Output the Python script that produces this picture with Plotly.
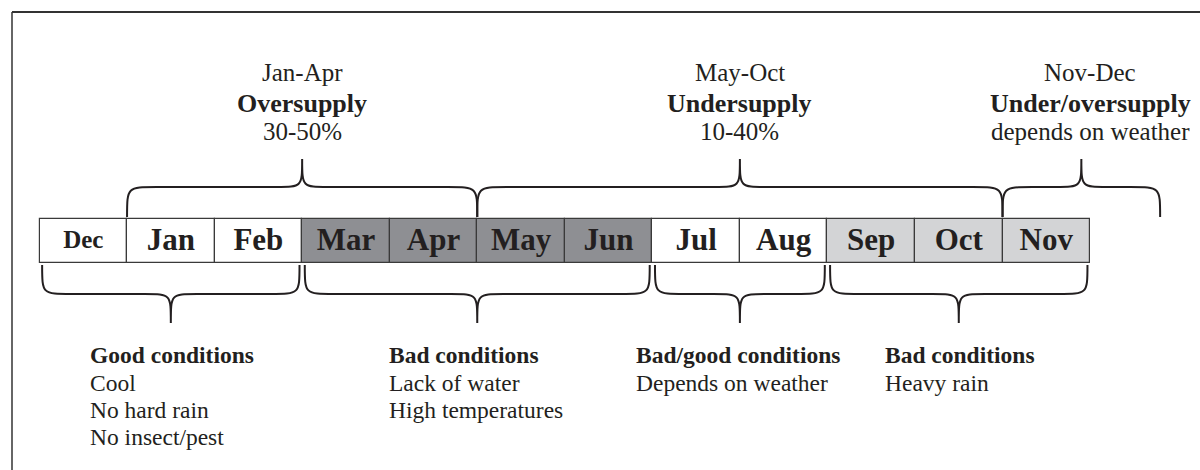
import plotly.graph_objects as go

# ---- data ----
months = ["Dec", "Jan", "Feb", "Mar", "Apr", "May", "Jun", "Jul", "Aug", "Sep", "Oct", "Nov"]
month_shade = ["white", "white", "white", "dark", "dark", "dark", "dark", "white", "white", "light", "light", "light"]

top_periods = ["Jan-Apr", "May-Oct", "Nov-Dec"]
top_status = ["Oversupply", "Undersupply", "Under/oversupply"]
top_detail = ["30-50%", "10-40%", "depends on weather"]
top_start = [1, 5, 11]      # month index where the span starts
top_end = [5, 11, 12.8]     # month index where the span ends (Nov-Dec runs into next Dec)

bottom_titles = ["Good conditions", "Bad conditions", "Bad/good conditions", "Bad conditions"]
bottom_lines = [["Cool", "No hard rain", "No insect/pest"],
                ["Lack of water", "High temperatures"],
                ["Depends on weather"],
                ["Heavy rain"]]
bottom_start = [0, 3, 7, 9]
bottom_end = [3, 7, 9, 12]

# ---- styling ----
W, H = 1200, 470
X0_PX, UNIT_PX = 39.5, 87.55
SHADE = {"white": "#ffffff", "dark": "#8e8f93", "light": "#d3d4d6"}
TXT = "#231f20"
LINE = "#231f20"
FONT = "Liberation Serif"

BOX_TOP, BOX_BOT = 219, 263
TOP_B, TOP_H, TOP_T = 217, 187, 159
BOT_B, BOT_H, BOT_T = 265, 294, 323
TOP_TEXT_Y = [72, 103, 131]
BOT_TEXT_Y = [355, 383, 410, 437]
top_label_shift = [0, 0, 0.1]
bottom_left_offset_px = [-83, -90, -106, -76]

fig = go.Figure()

# month boxes
fig.add_trace(go.Bar(
    x=[i + 0.5 for i in range(len(months))],
    y=[BOX_BOT - BOX_TOP] * len(months),
    base=[BOX_TOP] * len(months),
    width=1,
    marker=dict(color=[SHADE[s] for s in month_shade], line=dict(color="#3a3a3a", width=1.2)),
    hoverinfo="skip", showlegend=False,
))
fig.add_trace(go.Scatter(
    x=[i + 0.5 for i in range(len(months))],
    y=[(BOX_TOP + BOX_BOT) / 2 + 1] * len(months),
    mode="text",
    text=[f"<b>{m}</b>" for m in months],
    textfont=dict(family=FONT, size=[25] + [31] * (len(months) - 1), color=TXT),
    hoverinfo="skip", showlegend=False,
))


def brace(x0, x1, yb, yh, yt, r=0.34, r2=0.3):
    xm = (x0 + x1) / 2
    return (f"M {x0},{yb} C {x0},{yh} {x0},{yh} {x0 + r},{yh} "
            f"L {xm - r2},{yh} C {xm},{yh} {xm},{yh} {xm},{yt} "
            f"C {xm},{yh} {xm},{yh} {xm + r2},{yh} "
            f"L {x1 - r},{yh} C {x1},{yh} {x1},{yh} {x1},{yb}")


shapes = []
for s, e in zip(top_start, top_end):
    shapes.append(dict(type="path", xref="x", yref="y", path=brace(s, e, TOP_B, TOP_H, TOP_T),
                       line=dict(color=LINE, width=2)))
for s, e in zip(bottom_start, bottom_end):
    shapes.append(dict(type="path", xref="x", yref="y",
                       path=brace(s + 0.03, e - 0.03, BOT_B, BOT_H, BOT_T),
                       line=dict(color=LINE, width=2)))
# frame
shapes.append(dict(type="line", xref="paper", yref="paper", x0=12 / W, x1=1.0, y0=1 - 12 / H, y1=1 - 12 / H,
                   line=dict(color="#333333", width=2)))
shapes.append(dict(type="line", xref="paper", yref="paper", x0=12 / W, x1=12 / W, y0=0, y1=1 - 12 / H,
                   line=dict(color="#333333", width=1.5)))

ann = []
for i in range(len(top_periods)):
    xc = (top_start[i] + top_end[i]) / 2 + top_label_shift[i]
    for txt, y, sz in zip([top_periods[i], f"<b>{top_status[i]}</b>", top_detail[i]], TOP_TEXT_Y, [25, 26, 25]):
        ann.append(dict(x=xc, y=y, xref="x", yref="y", text=txt, showarrow=False,
                        xanchor="center", yanchor="middle",
                        font=dict(family=FONT, size=sz, color=TXT)))

for i in range(len(bottom_titles)):
    xc = (bottom_start[i] + bottom_end[i]) / 2
    xl = xc + bottom_left_offset_px[i] / UNIT_PX
    lines = [f"<b>{bottom_titles[i]}</b>"] + bottom_lines[i]
    for txt, y in zip(lines, BOT_TEXT_Y):
        ann.append(dict(x=xl, y=y, xref="x", yref="y", text=txt, showarrow=False,
                        xanchor="left", yanchor="middle",
                        font=dict(family=FONT, size=23.5, color=TXT)))

fig.update_layout(
    width=W, height=H, margin=dict(l=0, r=0, t=0, b=0),
    paper_bgcolor="white", plot_bgcolor="white",
    xaxis=dict(range=[-X0_PX / UNIT_PX, (W - X0_PX) / UNIT_PX], visible=False, fixedrange=True),
    yaxis=dict(range=[H, 0], visible=False, fixedrange=True),
    shapes=shapes, annotations=ann, bargap=0,
)

fig.write_html("out.html", config={"displayModeBar": False},
               post_script="document.body.style.margin='0';document.body.style.overflow='hidden';")
